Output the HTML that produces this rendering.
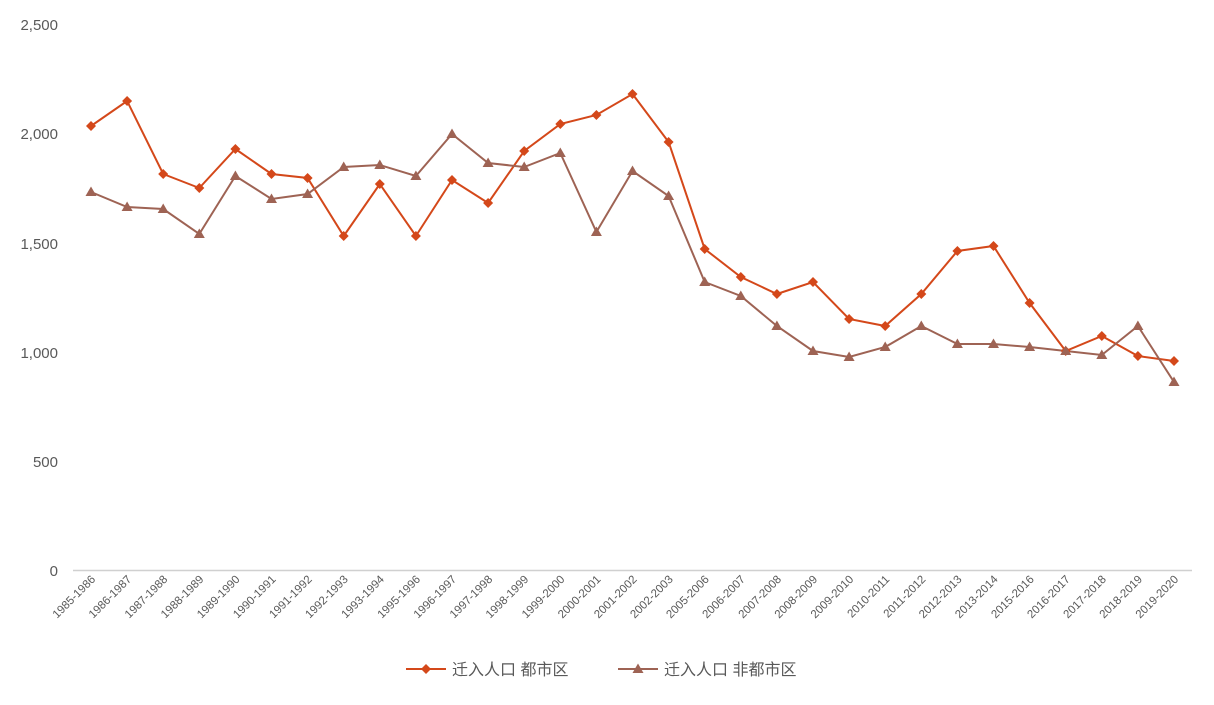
<!DOCTYPE html>
<html><head><meta charset="utf-8"><style>
body{margin:0;background:#fff;}
svg text{font-family:"Liberation Sans","Noto Sans CJK SC",sans-serif;fill:#595959;}
</style></head><body>
<svg width="1214" height="700" xmlns="http://www.w3.org/2000/svg">
<g font-size="15" text-anchor="end">
<text x="58" y="30">2,500</text>
<text x="58" y="139">2,000</text>
<text x="58" y="249">1,500</text>
<text x="58" y="358">1,000</text>
<text x="58" y="467">500</text>
<text x="58" y="576">0</text>
</g>
<line x1="73" y1="570.5" x2="1192" y2="570.5" stroke="#d0d0d0" stroke-width="1.6"/>
<g id="xl" font-size="11.5" text-anchor="end" style="fill:#404040"></g>
<polyline id="p1" fill="none" stroke="#D4481A" stroke-width="2"/>
<polyline id="p2" fill="none" stroke="#9E6354" stroke-width="2"/>
<g id="m1" fill="#D4481A"></g>
<g id="m2" fill="#9E6354"></g>
<line x1="406" y1="669" x2="446" y2="669" stroke="#D4481A" stroke-width="2"/>
<path d="M426 664 L431 669 L426 674 L421 669Z" fill="#D4481A"/>
<text x="452" y="675" font-size="16">迁入人口 都市区</text>
<line x1="618" y1="669" x2="658" y2="669" stroke="#9E6354" stroke-width="2"/>
<path d="M638 663.5 L643.5 673 L632.5 673Z" fill="#9E6354"/>
<text x="664" y="675" font-size="16">迁入人口 非都市区</text>
</svg>
<script>
var labels=["1985-1986","1986-1987","1987-1988","1988-1989","1989-1990","1990-1991","1991-1992","1992-1993","1993-1994","1995-1996","1996-1997","1997-1998","1998-1999","1999-2000","2000-2001","2001-2002","2002-2003","2005-2006","2006-2007","2007-2008","2008-2009","2009-2010","2010-2011","2011-2012","2012-2013","2013-2014","2015-2016","2016-2017","2017-2018","2018-2019","2019-2020"];
var a=[126,101,174,188,149,174,178,236,184,236,180,203,151,124,115,94,142,249,277,294,282,319,326,294,251,246,303,351,336,356,361];
var b=[192,207,209,234,176,199,194,167,165,176,134,163,167,153,232,171,196,282,296,326,351,357,347,326,344,344,347,351,355,326,382];
var ns="http://www.w3.org/2000/svg",step=(1174-91)/30,p1=[],p2=[];
var xl=document.getElementById("xl"),m1=document.getElementById("m1"),m2=document.getElementById("m2");
for(var i=0;i<31;i++){var x=91+i*step;
p1.push(x+","+a[i]);p2.push(x+","+b[i]);
var t=document.createElementNS(ns,"text");t.setAttribute("transform","translate("+(x+5)+",580) rotate(-45)");t.textContent=labels[i];xl.appendChild(t);
var d=document.createElementNS(ns,"path");d.setAttribute("d","M"+x+" "+(a[i]-5)+" L"+(x+5)+" "+a[i]+" L"+x+" "+(a[i]+5)+" L"+(x-5)+" "+a[i]+"Z");m1.appendChild(d);
var q=document.createElementNS(ns,"path");q.setAttribute("d","M"+x+" "+(b[i]-5.5)+" L"+(x+5.5)+" "+(b[i]+4)+" L"+(x-5.5)+" "+(b[i]+4)+"Z");m2.appendChild(q);}
document.getElementById("p1").setAttribute("points",p1.join(" "));
document.getElementById("p2").setAttribute("points",p2.join(" "));
</script>
</body></html>
